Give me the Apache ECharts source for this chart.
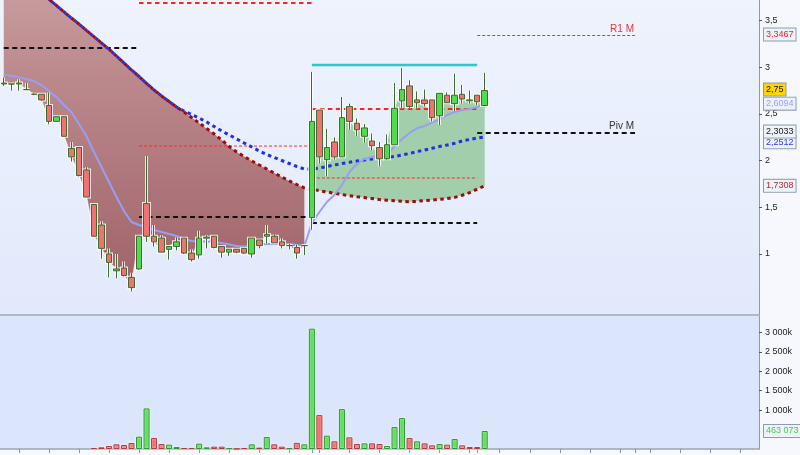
<!DOCTYPE html>
<html><head><meta charset="utf-8">
<script src="https://cdn.jsdelivr.net/npm/echarts@6/dist/echarts.min.js"></script>
<style>html,body{margin:0;padding:0;background:#f6f8fd}#c{width:800px;height:455px}</style>
</head><body><div id="c"></div>
<script>
// ---------- data ----------
const categories = Array.from({length: 101}, (_, i) => 'J' + (i + 1));

const opens  = [2.83,2.82,2.83,2.76,2.71,2.71,2.59,2.42,2.47,2.13,2.14,1.90,1.53,1.31,1.00,0.82,0.85,0.75,0.84,1.54,1.19,1.17,1.05,1.08,1.17,1.01,0.99,1.17,1.19,1.08,1.02,1.05,1.06,1.00,1.15,1.19,1.19,1.13,1.09,1.07,1.09,1.39,2.54,2.01,2.20,2.04,2.58,2.40,2.26,2.21,2.14,2.02,2.17,2.64,2.80,2.65,2.65,2.65,2.48,2.70,2.61,2.71,2.64,2.70,2.59];
const closes = [2.82,2.82,2.82,2.76,2.71,2.65,2.42,2.47,2.26,2.04,1.84,1.61,1.19,1.06,0.91,0.84,0.77,0.64,1.19,1.19,1.13,1.02,1.08,1.13,1.01,0.94,1.17,1.18,1.07,1.02,1.05,1.02,1.01,1.17,1.09,1.21,1.12,1.09,1.09,1.01,1.09,2.42,2.04,2.14,2.04,2.46,2.42,2.33,2.35,2.16,2.02,2.17,2.56,2.76,2.58,2.62,2.61,2.46,2.72,2.62,2.70,2.66,2.65,2.63,2.75];
const lows   = [2.80,2.75,2.75,2.76,2.70,2.64,2.39,2.42,2.26,1.99,1.83,1.61,1.19,0.95,0.75,0.74,0.76,0.60,0.83,1.13,1.08,1.02,0.94,1.04,1.00,0.92,0.95,1.06,1.06,0.96,0.98,1.01,1.00,0.96,1.06,1.11,1.12,1.06,1.05,0.95,0.99,1.26,1.97,1.83,2.01,2.04,2.33,2.26,2.19,2.11,1.94,2.01,2.17,2.56,2.56,2.56,2.58,2.42,2.38,2.62,2.53,2.61,2.61,2.59,2.59];
const highs  = [2.89,2.82,2.87,2.83,2.72,2.71,2.73,2.47,2.47,2.20,2.14,1.93,1.53,1.35,1.06,1.00,0.92,0.80,1.19,2.05,1.31,1.20,1.08,1.18,1.17,1.05,1.25,1.20,1.19,1.08,1.05,1.05,1.06,1.17,1.15,1.31,1.21,1.17,1.11,1.10,1.09,2.95,2.54,2.34,2.25,2.68,2.61,2.45,2.39,2.29,2.20,2.28,2.83,2.99,2.86,2.74,2.76,2.65,2.72,2.73,2.93,2.81,2.75,2.70,2.94];

const volumes = [0,0,0,0,0,0,0,0,0,0,0,0,26000,43000,77000,120000,103000,154000,316000,1043000,282000,128000,111000,51000,26000,26000,137000,43000,60000,60000,26000,6000,26000,120000,35000,308000,120000,60000,26000,158000,120000,3094000,872000,342000,197000,1026000,299000,128000,145000,145000,128000,77000,564000,795000,282000,197000,145000,94000,128000,111000,256000,94000,51000,51000,463073];

// short moving average (lavender)
const maShort = [2.922,2.906,2.892,2.874,2.852,2.809,2.745,2.681,2.595,2.520,2.392,2.263,2.092,1.932,1.771,1.610,1.460,1.343,1.311,1.289,1.257,1.236,1.214,1.193,1.161,1.139,1.134,1.134,1.128,1.118,1.102,1.086,1.080,1.091,1.102,1.107,1.107,1.107,1.107,1.096,1.086,1.329,1.450,1.557,1.632,1.739,1.878,1.964,2.017,2.039,2.049,2.060,2.156,2.231,2.296,2.346,2.371,2.406,2.445,2.488,2.520,2.542,2.553,2.574,2.6094];
// blue dotted average
const maBlue = [4.126,4.062,3.993,3.923,3.859,3.794,3.728,3.662,3.594,3.527,3.463,3.394,3.327,3.259,3.193,3.120,3.045,2.970,2.901,2.826,2.756,2.692,2.633,2.574,2.531,2.494,2.456,2.413,2.365,2.317,2.274,2.231,2.188,2.146,2.103,2.065,2.033,2.001,1.969,1.937,1.910,1.910,1.921,1.937,1.953,1.969,1.982,1.996,2.006,2.017,2.025,2.033,2.044,2.060,2.076,2.097,2.113,2.132,2.151,2.167,2.185,2.210,2.226,2.242,2.2512];
// dark red dotted average
const maRed = [4.126,4.062,3.993,3.923,3.859,3.794,3.728,3.662,3.594,3.527,3.463,3.394,3.327,3.259,3.193,3.120,3.045,2.970,2.901,2.826,2.756,2.692,2.633,2.574,2.520,2.461,2.403,2.344,2.285,2.221,2.151,2.092,2.044,1.996,1.953,1.910,1.867,1.824,1.782,1.744,1.707,1.693,1.678,1.664,1.650,1.637,1.625,1.613,1.604,1.594,1.583,1.575,1.570,1.564,1.560,1.564,1.572,1.578,1.586,1.593,1.606,1.629,1.658,1.694,1.7308];

// monthly pivot levels: month k spans monthStarts[k]..monthStarts[k+1]
const monthStarts = [0, 18, 41, 63, 84];
const pivotP  = [3.206, 1.396, 1.332, 2.3033];
const pivotR1 = [null, 2.156, 1.814, 3.3467];
const pivotR2 = [null, 3.687, 2.552, null];
const pivotR3 = [null, null, 3.024, null];

const priceTicks = [1, 1.5, 2, 2.5, 3, 3.5];
const volumeTicks = [1000000, 1500000, 2000000, 2500000, 3000000];

// ---------- helpers ----------
const FONT = 'Liberation Sans, Arial, sans-serif';
const N = categories.length;
const lastIdx = closes.length - 1;
const fmt = v => String(v).replace('.', ',');
const fmtThousands = v => String(v).replace(/\B(?=(\d{3})+(?!\d))/g, ' ');
function seg(from, to, fn) {
  const a = new Array(N).fill('-');
  for (let i = from; i <= to; i++) a[i] = fn(i);
  return a;
}
function tag(v, text, color, bg, dy) {
  return {
    yAxis: v,
    lineStyle: {width: 0, color: 'rgba(0,0,0,0)'},
    label: {
      show: true, position: 'end', distance: 5, formatter: text,
      color: color, fontSize: 9, fontFamily: FONT,
      backgroundColor: bg || '#eef2fb', borderColor: '#8d9cb3', borderWidth: 1,
      padding: [2, 2, 1, 2], offset: [0, dy || 0]
    }
  };
}
const levelStyle = {
  P:  {color: '#111111', width: 2, type: [5, 3.5]},
  R1: {color: '#ff2a2a', width: 1, type: [3, 2]},
  R2: {color: '#ff2020', width: 2, type: [4.5, 3.5]},
  R3: {color: '#2ec8c8', width: 2.5, type: 'solid'}
};
const candleData = opens.map((o, i) => [o, closes[i], lows[i], highs[i]]);

const series = [];

// fill between price and red average (brown when below, green when above)
const splitIdx = 40;
series.push({
  type: 'line', stack: 'L', symbol: 'none', silent: true, z: 1,
  data: seg(0, splitIdx, i => closes[i]),
  lineStyle: {color: '#ffffff', width: 1.5, opacity: 0.75}
});
series.push({
  type: 'line', stack: 'L', symbol: 'none', silent: true, z: 1,
  data: seg(0, splitIdx, i => +(maRed[i] - closes[i]).toFixed(4)),
  lineStyle: {width: 0},
  areaStyle: {opacity: 1, color: {type: 'linear', x: 0, y: 0, x2: 0, y2: 1,
    colorStops: [{offset: 0, color: '#cca3a5'}, {offset: 0.35, color: '#bb898c'}, {offset: 1, color: '#a0636a'}]}}
});
series.push({
  type: 'line', stack: 'R', symbol: 'none', silent: true, z: 1,
  data: seg(splitIdx + 1, lastIdx, i => maRed[i]),
  lineStyle: {width: 0}
});
series.push({
  type: 'line', stack: 'R', symbol: 'none', silent: true, z: 1,
  data: seg(splitIdx + 1, lastIdx, i => +(closes[i] - maRed[i]).toFixed(4)),
  lineStyle: {width: 0},
  areaStyle: {opacity: 1, color: '#a2ceab'}
});

// pivot lines for months 1..3
const levels = {P: pivotP, R1: pivotR1, R2: pivotR2, R3: pivotR3};
for (let k = 0; k < 3; k++) {
  for (const key of ['P', 'R1', 'R2', 'R3']) {
    const v = levels[key][k];
    if (v == null) continue;
    series.push({
      type: 'line', symbol: 'none', silent: true, z: 2,
      data: seg(monthStarts[k], monthStarts[k + 1], () => v),
      lineStyle: levelStyle[key]
    });
  }
}

// dotted averages
series.push({
  type: 'line', symbol: 'none', silent: true, data: maBlue, z: 2,
  lineStyle: {color: '#1f30e6', width: 3, type: [3.5, 3.5]},
  markLine: {symbol: 'none', silent: true, data: [tag(maBlue[lastIdx], fmt(maBlue[lastIdx]), '#2a3ae6', null, 5)]}
});
series.push({
  type: 'line', symbol: 'none', silent: true, data: maRed, z: 2,
  lineStyle: {color: '#9c0d0d', width: 3, type: [3.5, 3.5], dashOffset: 3.5},
  markLine: {symbol: 'none', silent: true, data: [tag(maRed[lastIdx], fmt(maRed[lastIdx]), '#b32a2a')]}
});
// short average
series.push({
  type: 'line', symbol: 'none', silent: true, data: maShort, z: 2,
  lineStyle: {color: '#9a9ef2', width: 2},
  markLine: {symbol: 'none', silent: true, data: [tag(maShort[lastIdx], fmt(maShort[lastIdx]), '#9a9ef2')]}
});

// white halo behind candles
series.push({
  type: 'candlestick', barWidth: 6, silent: true, data: candleData, z: 3,
  itemStyle: {color: '#ffffff', color0: '#ffffff', borderColor: 'rgba(255,255,255,0.8)', borderColor0: 'rgba(255,255,255,0.8)', borderWidth: 3}
});
// candles
series.push({
  type: 'candlestick', barWidth: 6, silent: true, data: candleData, z: 4,
  itemStyle: {color: '#4fdc4f', color0: '#f07272', borderColor: '#3f6b2c', borderColor0: '#3f6b2c', borderWidth: 1},
  markLine: {symbol: 'none', silent: true, data: [tag(closes[lastIdx], fmt(closes[lastIdx]), '#111111', '#ffd400', -1)]}
});

// month 4 pivot lines with names
series.push({
  type: 'line', symbol: 'none', silent: true, data: [],
  markLine: {
    symbol: 'none', silent: true,
    data: [
      [{coord: [monthStarts[3], pivotR1[3]], lineStyle: levelStyle.R1,
        label: {show: true, position: 'insideEndTop', formatter: 'R1 M', color: '#ee3333', fontSize: 10, fontFamily: FONT, distance: 1}},
       {coord: [monthStarts[4], pivotR1[3]]}],
      [{coord: [monthStarts[3], pivotP[3]], lineStyle: levelStyle.P,
        label: {show: true, position: 'insideEndTop', formatter: 'Piv M', color: '#333333', fontSize: 10, fontFamily: FONT, distance: 1}},
       {coord: [monthStarts[4], pivotP[3]]}],
      tag(pivotR1[3], fmt(pivotR1[3]), '#ee2222'),
      tag(pivotP[3], fmt(pivotP[3]), '#222222', null, -1)
    ]
  }
});

// volume
series.push({
  type: 'bar', xAxisIndex: 1, yAxisIndex: 1, barWidth: 6, silent: true,
  data: volumes.map((v, i) => {
    if (!v) return '-';
    const up = i === 0 || closes[i] >= closes[i - 1];
    return {value: v, itemStyle: up
      ? {color: '#58dd58', borderColor: '#2a9a2a', borderWidth: 1, shadowColor: 'rgba(255,255,255,0.9)', shadowBlur: 2}
      : {color: '#ee6a6a', borderColor: '#b23a3a', borderWidth: 1, shadowColor: 'rgba(255,255,255,0.9)', shadowBlur: 2}};
  }),
  markLine: {symbol: 'none', silent: true, data: [tag(volumes[lastIdx], fmtThousands(volumes[lastIdx]), '#44cc44')]}
});

const chart = echarts.init(document.getElementById('c'), null, {renderer: 'canvas'});
chart.setOption({
  animation: false,
  backgroundColor: '#f6f8fd',
  grid: [
    {left: 0, top: 0, right: 41, height: 315, show: true, borderWidth: 0,
      backgroundColor: {type: 'linear', x: 0, y: 0, x2: 0, y2: 1, colorStops: [{offset: 0, color: '#eef3fd'}, {offset: 1, color: '#e1e9fb'}]}},
    {left: 0, top: 316, right: 41, height: 133, show: true, borderWidth: 0, backgroundColor: '#dbe5fb'}
  ],
  xAxis: [
    {type: 'category', gridIndex: 0, data: categories, boundaryGap: true,
      axisLine: {show: true, lineStyle: {color: '#9aa6b6', width: 1.5}}, axisTick: {show: false}, axisLabel: {show: false}},
    {type: 'category', gridIndex: 1, data: categories, boundaryGap: true,
      axisLine: {show: true, lineStyle: {color: '#9aa6b6', width: 1.5}},
      axisTick: {show: true, alignWithLabel: true, length: 4, lineStyle: {color: '#8a96a8'},
        interval: (idx) => idx % 4 === 2 || monthStarts.indexOf(idx) > 0},
      axisLabel: {show: false}}
  ],
  yAxis: [
    {type: 'value', gridIndex: 0, position: 'right', min: 0.347, max: 3.7195, splitLine: {show: false},
      axisLine: {show: true, lineStyle: {color: '#8a9bb0'}},
      axisTick: {show: true, length: 3, customValues: priceTicks, lineStyle: {color: '#555'}},
      axisLabel: {customValues: priceTicks, formatter: fmt, fontSize: 9, color: '#222', fontFamily: FONT, margin: 6}},
    {type: 'value', gridIndex: 1, position: 'right', min: 0, max: 3420000, splitLine: {show: false},
      axisLine: {show: true, lineStyle: {color: '#8a9bb0'}},
      axisTick: {show: true, length: 3, customValues: volumeTicks, lineStyle: {color: '#555'}},
      axisLabel: {customValues: volumeTicks, formatter: v => fmtThousands(v / 1000) + 'k', fontSize: 9, color: '#222', fontFamily: FONT, margin: 6}}
  ],
  series: series
});
</script></body></html>
